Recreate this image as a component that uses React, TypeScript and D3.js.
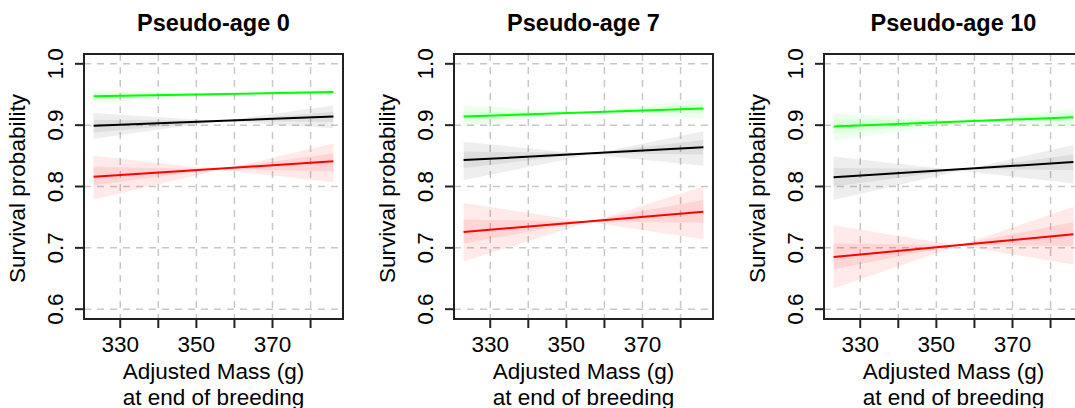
import React from 'react'
import * as d3 from 'd3'

// panels and axes
const panelTitles = ['Pseudo-age 0', 'Pseudo-age 7', 'Pseudo-age 10']
const massRange = [323, 386]
const xTicks = [330, 340, 350, 360, 370, 380]
const xTickLabels = ['330', '', '350', '', '370', '']
const yTicks = [0.6, 0.7, 0.8, 0.9, 1.0]
const yTickLabels = ['0.6', '0.7', '0.8', '0.9', '1.0']

// fitted survival at [min mass, max mass], one pair per panel
const greenFit = [[0.947, 0.954], [0.914, 0.927], [0.898, 0.913]]
const blackFit = [[0.899, 0.914], [0.843, 0.864], [0.815, 0.840]]
const redFit = [[0.816, 0.841], [0.726, 0.759], [0.685, 0.722]]

// bands: [lower, upper] at min mass and at max mass
const greenOuter = [[[0.936, 0.957], [0.947, 0.961]], [[0.898, 0.932], [0.911, 0.943]], [[0.875, 0.920], [0.895, 0.928]]]
const greenInner = [[[0.941, 0.952], [0.951, 0.957]], [[0.906, 0.922], [0.920, 0.935]], [[0.887, 0.910], [0.906, 0.921]]]
const blackOuter = [[[0.878, 0.920], [0.895, 0.932]], [[0.810, 0.873], [0.834, 0.890]], [[0.778, 0.849], [0.805, 0.868]]]
const blackInner = [[[0.888, 0.909], [0.905, 0.922]], [[0.830, 0.857], [0.852, 0.876]], [[0.800, 0.830], [0.827, 0.852]]]
const redOuter = [[[0.779, 0.850], [0.807, 0.870]], [[0.678, 0.773], [0.714, 0.800]], [[0.634, 0.737], [0.673, 0.767]]]
const redInner = [[[0.802, 0.832], [0.825, 0.854]], [[0.707, 0.746], [0.741, 0.778]], [[0.665, 0.707], [0.703, 0.742]]]

const W = 1075
const H = 408
const PANEL_W = 370
const box = { left: 84, right: 343, top: 54, bottom: 319 }
const font = 'Liberation Sans, Arial, Helvetica, sans-serif'
const FS = 22.5

const groups = [
  { fit: redFit, outer: redOuter, inner: redInner, color: '#ff0000', op: 0.085 },
  { fit: blackFit, outer: blackOuter, inner: blackInner, color: '#000000', op: 0.065 },
  { fit: greenFit, outer: greenOuter, inner: greenInner, color: '#00ff00', op: 0.07 },
]

const pad = (a: number, b: number) => [a - (b - a) * 0.04, b + (b - a) * 0.04]

const Panel = ({ idx }: { idx: number }) => {
  const x = d3.scaleLinear().domain(pad(massRange[0], massRange[1])).range([box.left, box.right])
  const y = d3.scaleLinear().domain(pad(0.6, 1.0)).range([box.bottom, box.top])

  // bow-tie band: edge from upper-left to lower-right, and lower-left to upper-right
  const band = (b: number[][]) => {
    const pts = [
      { m: massRange[0], a: b[0][1], c: b[0][0] },
      { m: massRange[1], a: b[1][0], c: b[1][1] },
    ]
    return d3.area<any>().x((d) => x(d.m)).y0((d) => y(d.a)).y1((d) => y(d.c))(pts) || ''
  }
  const line = d3.line<number>().x((_, i) => x(massRange[i])).y((d) => y(d))

  const cx = (box.left + box.right) / 2
  const cy = (box.top + box.bottom) / 2

  return (
    <g transform={`translate(${idx * PANEL_W},0)`}>
      <text x={cx} y={31} textAnchor="middle" fontWeight="bold" fontSize={23.5} fontFamily={font}>
        {panelTitles[idx]}
      </text>

      {/* grid */}
      {xTicks.map((t) => (
        <line key={'gx' + t} x1={x(t)} x2={x(t)} y1={box.top} y2={box.bottom}
          stroke="#c8c8c8" strokeWidth={1.5} strokeDasharray="7,6" />
      ))}
      {yTicks.map((t) => (
        <line key={'gy' + t} x1={box.left} x2={box.right} y1={y(t)} y2={y(t)}
          stroke="#c8c8c8" strokeWidth={1.5} strokeDasharray="7,6" />
      ))}

      {/* bands */}
      {groups.map((g, i) => (
        <g key={'b' + i} fill={g.color} fillOpacity={g.op}>
          <path d={band(g.outer[idx])} />
          <path d={band(g.inner[idx])} />
        </g>
      ))}
      {/* fitted lines */}
      {groups.map((g, i) => (
        <path key={'l' + i} d={line(g.fit[idx]) || ''} fill="none" stroke={g.color} strokeWidth={2} />
      ))}

      <rect x={box.left} y={box.top} width={box.right - box.left} height={box.bottom - box.top}
        fill="none" stroke="#222" strokeWidth={2} />

      {/* x axis */}
      {xTicks.map((t, i) => (
        <g key={'xt' + t}>
          <line x1={x(t)} x2={x(t)} y1={box.bottom} y2={box.bottom + 9} stroke="#222" strokeWidth={2} />
          <text x={x(t)} y={352} textAnchor="middle" fontSize={FS} fontFamily={font}>{xTickLabels[i]}</text>
        </g>
      ))}
      <text x={cx} y={379} textAnchor="middle" fontSize={FS} fontFamily={font}>Adjusted Mass (g)</text>
      <text x={cx} y={405} textAnchor="middle" fontSize={FS} fontFamily={font}>at end of breeding</text>

      {/* y axis */}
      {yTicks.map((t, i) => (
        <g key={'yt' + t}>
          <line x1={box.left - 9} x2={box.left} y1={y(t)} y2={y(t)} stroke="#222" strokeWidth={2} />
          <text transform={`translate(63,${y(t)}) rotate(-90)`} textAnchor="middle" fontSize={FS} fontFamily={font}>
            {yTickLabels[i]}
          </text>
        </g>
      ))}
      <text transform={`translate(25,${cy + 2}) rotate(-90)`} textAnchor="middle" fontSize={FS} fontFamily={font}>
        Survival probability
      </text>
    </g>
  )
}

export default function App() {
  return (
    <div style={{ position: 'absolute', left: 0, top: 0 }}>
      <svg width={W} height={H} style={{ display: 'block', background: '#fff' }}>
        {panelTitles.map((_, i) => (
          <Panel key={i} idx={i} />
        ))}
      </svg>
    </div>
  )
}
